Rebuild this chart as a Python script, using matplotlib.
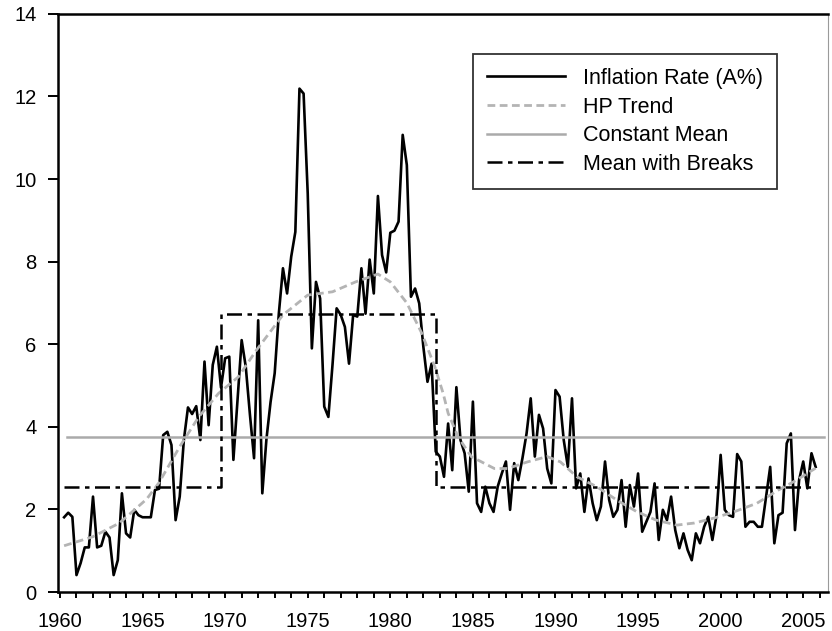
# -*- coding: utf-8 -*-
# quarterly inflation with HP trend, constant mean and mean with breaks
import numpy as np
import matplotlib
matplotlib.use('Agg')
import matplotlib.pyplot as plt

# quarterly inflation rate (annualised %), first obs at 1960.25
start_year = 1960.25
inflation = [
    1.81, 1.92, 1.82, 0.41, 0.70, 1.08, 1.08, 2.31, 1.08, 1.12,
    1.46, 1.32, 0.41, 0.77, 2.39, 1.42, 1.32, 1.99, 1.86, 1.81,
    1.81, 1.81, 2.47, 2.50, 3.80, 3.88, 3.56, 1.74, 2.31, 3.68,
    4.47, 4.31, 4.50, 3.68, 5.58, 4.04, 5.50, 5.94, 4.95, 5.66,
    5.70, 3.20, 4.65, 6.10, 5.45, 4.30, 3.24, 6.58, 2.39, 3.70,
    4.60, 5.30, 6.74, 7.84, 7.23, 8.12, 8.72, 12.19, 12.07, 9.65,
    5.90, 7.51, 7.11, 4.49, 4.24, 5.50, 6.87, 6.71, 6.42, 5.53,
    6.71, 6.67, 7.84, 6.74, 8.05, 7.23, 9.59, 8.16, 7.74, 8.70,
    8.75, 8.97, 11.07, 10.34, 7.15, 7.35, 6.99, 5.94, 5.09, 5.53,
    3.40, 3.28, 2.79, 4.08, 2.95, 4.96, 3.68, 3.36, 2.43, 4.61,
    2.15, 1.94, 2.55, 2.15, 1.94, 2.55, 2.87, 3.16, 1.99, 3.12,
    2.71, 3.24, 3.84, 4.69, 3.28, 4.29, 3.96, 2.99, 2.63, 4.89,
    4.73, 3.68, 3.03, 4.69, 2.51, 2.87, 1.94, 2.75, 2.15, 1.74,
    2.07, 3.16, 2.23, 1.82, 1.99, 2.71, 1.58, 2.59, 2.07, 2.87,
    1.46, 1.70, 1.94, 2.63, 1.26, 1.99, 1.74, 2.31, 1.50, 1.06,
    1.42, 1.02, 0.77, 1.42, 1.18, 1.58, 1.82, 1.26, 1.86, 3.32,
    1.99, 1.86, 1.82, 3.34, 3.16, 1.58, 1.70, 1.70, 1.58, 1.58,
    2.31, 3.03, 1.18, 1.86, 1.92, 3.60, 3.84, 1.50, 2.71, 3.16,
    2.51, 3.36, 3.03,
]

# HP trend
hp_years = [1960.25, 1962.0, 1963.6, 1965.25, 1966.0, 1967.25, 1968.4, 1969.6,
            1970.8, 1971.9, 1973.5, 1975.0, 1976.5, 1977.9, 1979.25, 1980.0,
            1981.0, 1981.9, 1982.7, 1983.2, 1983.5, 1984.1, 1984.9, 1986.3,
            1987.1, 1988.3, 1989.5, 1990.3, 1991.3, 1992.5, 1993.7, 1994.9,
            1996.1, 1997.35, 1998.4, 1999.6, 2000.8, 2002.2, 2003.5, 2004.6,
            2005.75]
hp_trend = [1.12, 1.34, 1.67, 2.25, 2.65, 3.52, 4.24, 4.81,
            5.21, 5.86, 6.71, 7.19, 7.27, 7.51, 7.70, 7.51,
            7.00, 6.27, 5.45, 4.81, 4.33, 3.76, 3.28, 2.99,
            2.99, 3.15, 3.28, 3.15, 2.79, 2.55, 2.23, 1.95,
            1.74, 1.62, 1.67, 1.79, 1.94, 2.15, 2.47, 2.71,
            3.00]

constant_mean = 3.76

# regimes for the mean with breaks
break_starts = [1960.25, 1969.75, 1982.75]
break_end = 2005.65
break_means = [2.54, 6.73, 2.54]

labels = ['Inflation Rate (A%)', 'HP Trend', 'Constant Mean', 'Mean with Breaks']


def main():
    plt.rcParams['font.family'] = ['Liberation Sans', 'DejaVu Sans']

    fig = plt.figure(figsize=(8.32, 6.31), dpi=100)
    ax = fig.add_axes([0.0697, 0.0618, 0.9255, 0.9162])

    years = start_year + 0.25 * np.arange(len(inflation))

    ax.plot(years, inflation, color='black', linewidth=1.9, label=labels[0])
    ax.plot(hp_years, hp_trend, color='#b4b4b4', linewidth=2.0,
            dashes=(2.8, 1.6), label=labels[1])
    ax.plot([years[0] + 0.15, years[-1] + 0.5], [constant_mean, constant_mean],
            color='#aaaaaa', linewidth=1.8, label=labels[2])

    bx = break_starts + [break_end]
    by = break_means + [break_means[-1]]
    ax.plot(bx, by, color='black', linewidth=1.8, drawstyle='steps-post',
            dashes=(6, 2.2, 1.8, 2.2), label=labels[3])

    ax.set_xlim(1959.88, 2006.5)
    ax.set_ylim(0, 14)

    ax.set_xticks(np.arange(1960, 2007, 1), minor=True)
    ax.set_xticks(np.arange(1960, 2006, 5))
    ax.set_yticks(np.arange(0, 15, 2))

    ax.tick_params(axis='x', which='both', direction='out', length=4,
                   width=1.4, labelsize=14.5, pad=10.5)
    ax.tick_params(axis='y', direction='out', length=7.5, width=1.4,
                   labelsize=14.5, pad=8)

    for side in ['left', 'bottom', 'top']:
        ax.spines[side].set_linewidth(1.8)
    ax.spines['right'].set_linewidth(0.8)
    ax.spines['right'].set_color('#9a9a9a')

    leg = ax.legend(loc='upper left', bbox_to_anchor=(0.539, 0.931),
                    borderaxespad=0, fontsize=15.5, frameon=True,
                    fancybox=False, handlelength=3.6, handletextpad=0.85,
                    labelspacing=0.36, borderpad=0.65)
    leg.get_frame().set_edgecolor('black')
    leg.get_frame().set_linewidth(1.3)

    fig.savefig('out.png', dpi=100)


if __name__ == '__main__':
    main()
